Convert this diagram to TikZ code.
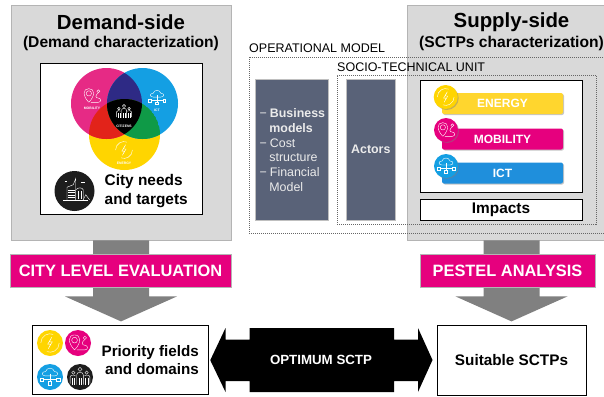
\documentclass[tikz,border=0pt]{standalone}
\usepackage{fontspec}
\setmainfont{Liberation Sans}
\usetikzlibrary{positioning, shapes.geometric, shadows, calc}

\definecolor{sidegray}{HTML}{D9D9D9}
\definecolor{sideedge}{HTML}{B4B4B4}
\definecolor{arrowgray}{HTML}{808080}
\definecolor{slateblue}{HTML}{596278}
\definecolor{hotpink}{HTML}{E6007E}
\definecolor{venncyan}{HTML}{149FE3}
\definecolor{vennpink}{HTML}{E62A85}
\definecolor{vennyellow}{HTML}{FFD500}
\definecolor{vennviolet}{HTML}{2E2A85}
\definecolor{vennred}{HTML}{E2231A}
\definecolor{venngreen}{HTML}{0F9A47}
\definecolor{barblue}{HTML}{1F8FDC}
\definecolor{baryellow}{HTML}{FFD62E}
\definecolor{nearblack}{HTML}{1D1D1D}

\newcommand{\fs}[1]{\fontsize{#1}{#1}\selectfont}

\tikzset{
  iconline/.style={draw=white, line width=0.4pt, fill=none},
  pics/iconbolt/.style={code={
      \draw [iconline] (8,0) arc (0:110:8);
      \draw [iconline] (-8,0) arc (180:290:8);
      \draw [iconline] (1.5,-5) -- (-2,1) -- (0.5,1) -- (-1.5,5) -- (2,-1) -- (-0.5,-1) -- cycle;
    }},
  pics/iconpin/.style={code={
      \draw [iconline] (-3,-2.5) circle (2.5);
      \draw [iconline] (-3,6) .. controls (-9,0) and (-9,-7) .. (-3,-7) .. controls (3,-7) and (3,0) .. (-3,6);
      \draw [iconline] (-1,6) -- (6,6) .. controls (9,6) and (9,2) .. (6,2) .. controls (3,2) and (3,-1) .. (6,-3);
      \draw [iconline] (6,-4.5) circle (1.4);
    }},
  pics/iconcloud/.style={code={
      \draw [iconline] (-4,-1) .. controls (-8,-1) and (-8,-5) .. (-4,-5) .. controls (-3,-9) and (3,-9) .. (4,-5) .. controls (8,-5) and (8,-1) .. (4,-1) -- cycle;
      \draw [iconline] (0,-3) -- (0,4);
      \draw [iconline] (-6,2) -- (6,2);
      \draw [iconline] (-9,1) rectangle (-6,4);
      \draw [iconline] (6,1) rectangle (9,4);
      \draw [iconline] (-1.5,4) rectangle (1.5,7);
    }},
  pics/iconpeople/.style={code={
      \draw [iconline] (0,-7) circle (1.8);
      \draw [iconline] (-6,-4) circle (1.5);
      \draw [iconline] (6,-4) circle (1.5);
      \draw [iconline] (-3,7) -- (-3,-2) .. controls (-3,-5) and (3,-5) .. (3,-2) -- (3,7);
      \draw [iconline] (-9,6) -- (-9,0) .. controls (-9,-2) and (-5,-2) .. (-4,-1);
      \draw [iconline] (9,6) -- (9,0) .. controls (9,-2) and (5,-2) .. (4,-1);
      \foreach \xpos in {-7,-5,-1,1,5,7} \draw [iconline] (\xpos,1) -- (\xpos,7);
    }},
  pics/iconcity/.style={code={
      \draw [iconline] (-6,7) -- (-6,-3) -- (-1,-5) -- (1,-10) -- (1,7);
      \draw [iconline] (1,7) -- (1,-1) .. controls (3,-3) and (6,-3) .. (7,-1) -- (7,7);
      \draw [iconline] (-9,7) -- (11,7);
      \foreach \ypos in {-1,1,3,5} \draw [iconline] (-5,\ypos) -- (0,\ypos);
      \foreach \xpos in {3,5} \draw [iconline] (\xpos,0) -- (\xpos,6);
      \draw [iconline] (7,7) -- (9,3) -- (12,7);
      \draw [iconline] (5,-7) -- (8,-7);
      \draw [iconline] (-8,-8) -- (-6,-8);
    }}
}

\begin{document}
\begin{tikzpicture}[x=1pt, y=-1pt]
      \tikzstyle{sidebox} = [rectangle, minimum width=220pt, minimum height=235pt, inner sep=0pt, draw=sideedge, line width=0.8pt, fill=sidegray]
      \tikzstyle{title} = [font=\fs{20.4}\bfseries, inner sep=0pt]
      \tikzstyle{subtitle} = [font=\fs{15.6}\bfseries, inner sep=0pt]
      \tikzstyle{blackframe} = [rectangle, inner sep=0pt, draw=black, line width=1pt, fill=white]
      \tikzstyle{slate} = [rectangle, minimum height=141pt, inner sep=0pt, draw=black!25, line width=0.3pt, fill=slateblue, text=white!92!black, font=\fs{12.4}\bfseries]
      \tikzstyle{band} = [rectangle, minimum height=33pt, inner sep=0pt, draw=sideedge, line width=0.4pt, fill=hotpink, text=white, font=\fs{16.4}\bfseries]
      \tikzstyle{bar} = [rectangle, rounded corners=2pt, minimum width=121pt, minimum height=21pt, inner sep=0pt, text=white, font=\fs{12}\bfseries, drop shadow={shadow xshift=1pt, shadow yshift=-1pt, opacity=0.45}]
      \tikzstyle{badge} = [circle, minimum size=24pt, inner sep=0pt, drop shadow={shadow xshift=1pt, shadow yshift=-1pt, opacity=0.45}]
      \tikzstyle{dot} = [circle, minimum size=26pt, inner sep=0pt]
      \tikzstyle{tiny} = [font=\fs{3.4}\bfseries, text=white, inner sep=0pt]
      \tikzstyle{zone} = [rectangle, inner sep=0pt, draw=black!60, line width=1pt, densely dotted]
      \tikzstyle{zonelabel} = [anchor=west, font=\fs{12.5}, inner sep=0pt]
      \tikzstyle{bigarrow} = [fill=arrowgray]

      \clip (0,0) rectangle (604,396);

      \node (demand) [sidebox] at (121,122.5) {};
      \node (supply) [sidebox, minimum width=200pt] at (507.5,122.5) {};
      \node (demandtitle) [title] at (121,22) {Demand-side};
      \node (demandsub) [subtitle] at (121,43) {(Demand characterization)};
      \node (supplytitle) [title] at (511.5,22) {Supply-side};
      \node (supplysub) [subtitle] at (511.5,43) {(SCTPs characterization)};

      \fill [bigarrow] (demand.south) ++(-28,0) -- ++(0,56) -- ++(-28,0) -- ++(56,25) -- ++(56,-25) -- ++(-28,0) -- ++(0,-56) -- cycle;
      \fill [bigarrow] (supply.south) ++(4,0) ++(-28,0) -- ++(0,56) -- ++(-28,0) -- ++(56,25) -- ++(56,-25) -- ++(-28,0) -- ++(0,-56) -- cycle;

      \node (cityeval) [band, minimum width=221pt] at (120.5,270.5) {CITY LEVEL EVALUATION};
      \node (pestel) [band, minimum width=175pt] at (507.5,270.5) {PESTEL ANALYSIS};

      \node (needs) [blackframe, minimum width=162pt, minimum height=151pt] at (121,138.5) {};
      \fill [vennyellow] (124.5,134.5) circle (35.5);
      \fill [vennpink] (106.5,103.5) circle (35.5);
      \fill [venncyan] (142.5,103.5) circle (35.5);
      \begin{scope}
        \clip (106.5,103.5) circle (35.5);
        \fill [vennviolet] (142.5,103.5) circle (35.5);
        \fill [vennred] (124.5,134.5) circle (35.5);
        \clip (142.5,103.5) circle (35.5);
        \fill [black] (124.5,134.5) circle (35.5);
      \end{scope}
      \begin{scope}
        \clip (142.5,103.5) circle (35.5);
        \clip (124.5,134.5) circle (35.5);
        \fill [venngreen] (124.5,134.5) circle (35.5);
        \clip (106.5,103.5) circle (35.5);
        \fill [black] (124.5,134.5) circle (35.5);
      \end{scope}
      \pic [scale=1.05] at (92,96) {iconpin};
      \node (mobilitytag) [tiny] at (92,108.5) {MOBILITY};
      \pic [scale=0.95] at (157,98) {iconcloud};
      \node (icttag) [tiny] at (157,110.5) {ICT};
      \pic [scale=0.85] at (124,112) {iconpeople};
      \node (citizenstag) [tiny] at (124,126) {CITIZENS};
      \pic [scale=1.05] at (124,150) {iconbolt};
      \node (energytag) [tiny] at (124,163) {ENERGY};

      \node (cityicon) [circle, minimum size=40pt, inner sep=0pt, fill=nearblack] at (74.5,191) {};
      \pic [scale=1.25] at (74.5,191) {iconcity};
      \node (citytext) [anchor=west, align=left, font=\fontsize{15.4}{19}\selectfont\bfseries, inner sep=0pt] at (104.5,191) {City needs\\and targets};

      \node (business) [slate, minimum width=73pt] at (291.5,149.5) {};
      \node (businesstext) [align=left, anchor=west, inner sep=0pt, text=white!92!black, font=\fontsize{12.4}{14.8}\selectfont] at (259.5,150) {−\hspace{3pt}\textbf{Business}\\\hspace{9.7pt}\textbf{models}\\−\hspace{3pt}Cost\\\hspace{9.7pt}structure\\−\hspace{3pt}Financial\\\hspace{9.7pt}Model};
      \node (actors) [slate, minimum width=49pt, right=18pt of business] {Actors};

      \node (techbox) [blackframe, minimum width=162pt, minimum height=112pt] at (501,136) {};
      \node (impacts) [blackframe, minimum width=162pt, minimum height=21pt, below=6pt of techbox, font=\fs{15.4}\bfseries] {Impacts};

      \node (energybar) [bar, fill=baryellow] at (502.5,103.5) {ENERGY};
      \node (mobilitybar) [bar, fill=hotpink] at (502.5,139) {MOBILITY};
      \node (ictbar) [bar, fill=barblue] at (502.5,173) {ICT};
      \node (energybadge) [badge, fill=vennyellow] at (445.7,97) {};
      \node (mobilitybadge) [badge, fill=hotpink] at (446,130) {};
      \node (ictbadge) [badge, fill=venncyan] at (446,166) {};
      \pic [scale=1.05] at (energybadge) {iconbolt};
      \pic [scale=1.05] at (mobilitybadge) {iconpin};
      \pic [scale=1] at (ictbadge) {iconcloud};

      \node (opzone) [zone, minimum width=370pt, minimum height=176pt] at (434,145) {};
      \node (techzone) [zone, minimum width=259pt, minimum height=149pt] at (466.5,149.5) {};
      \node (oplabel) [zonelabel] at (249,48) {OPERATIONAL MODEL};
      \node (techlabel) [zonelabel] at (337,67) {SOCIO-TECHNICAL UNIT};

      \node (fields) [blackframe, minimum width=175.5pt, minimum height=69.5pt] at (120.5,360.2) {};
      \node (suitable) [blackframe, minimum width=149pt, minimum height=70pt, font=\fs{15.3}\bfseries] at (511.5,360) {Suitable SCTPs};
      \node (dotenergy) [dot, fill=vennyellow] at (50,343) {};
      \node (dotmobility) [dot, fill=hotpink] at (78,343) {};
      \node (dotict) [dot, fill=venncyan] at (50,377) {};
      \node (dotpeople) [dot, fill=nearblack] at (80,377) {};
      \pic [scale=1.15] at (dotenergy) {iconbolt};
      \pic [scale=1.15] at (dotmobility) {iconpin};
      \pic [scale=1.1] at (dotict) {iconcloud};
      \pic [scale=1.1] at (dotpeople) {iconpeople};
      \node (fieldstext) [anchor=east, align=right, font=\fontsize{15.2}{18.7}\selectfont\bfseries, inner sep=0pt] at (199,360) {Priority fields\\and domains};

      \fill [black] ($(fields.east)+(1.5,0)$) -- (225.5,328) -- (225.5,339.5) -- (249.5,339.5) -- (249.5,328) -- (394,328) -- (394,339.5) -- (418,339.5) -- (418,328) -- ($(suitable.west)+(-4,0)$) -- (418,392) -- (418,381) -- (394,381) -- (394,392) -- (249.5,392) -- (249.5,381) -- (225.5,381) -- (225.5,392) -- cycle;
      \node (optimum) [text=white, font=\fs{13.3}\bfseries, inner sep=0pt] at (321,360) {OPTIMUM SCTP};

    \end{tikzpicture}
\end{document}
